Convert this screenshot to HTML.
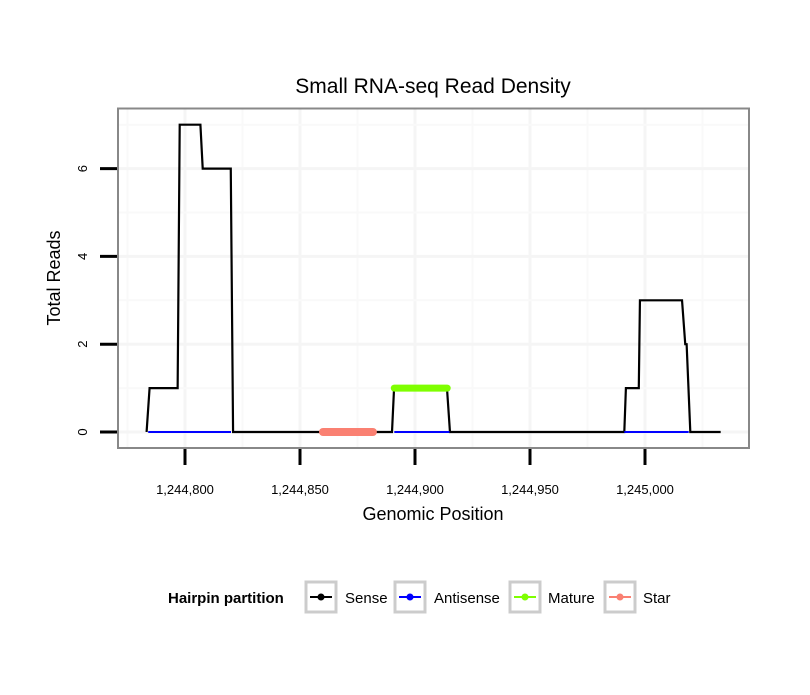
<!DOCTYPE html>
<html><head><meta charset="utf-8"><style>
body{margin:0;background:#fff;font-family:"Liberation Sans",sans-serif}
</style></head><body>
<svg id="c" width="810" height="690" xmlns="http://www.w3.org/2000/svg" font-family="Liberation Sans, sans-serif"></svg>
<script>
const xTicks=[1244800,1244850,1244900,1244950,1245000];
const xTickLabels=["1,244,800","1,244,850","1,244,900","1,244,950","1,245,000"];
const yTicks=[0,2,4,6];
const senseX=[1244783.3,1244784.6,1244796.8,1244797.7,1244806.7,1244807.7,1244819.9,1244820.9,1244890,1244890.9,1244913.9,1244915.2,1244991.0,1244991.7,1244997.3,1244997.8,1245016.1,1245017.5,1245018.1,1245019.7,1245032.9];
const senseY=[0,1,1,7,7,6,6,0,0,1,1,0,0,1,1,3,3,2,2,0,0];
const antiSegs=[[1244784,1244820],[1244891,1244915],[1244991,1245019]];
const matureSegs=[[1244891,1244914,1]];
const starSegs=[[1244860,1244881.7,0]];
const X=v=>185+(v-1244800)*2.3;
const Y=v=>432-v*43.9;
const s=document.getElementById('c');const NS="http://www.w3.org/2000/svg";
function el(t,a,txt){const e=document.createElementNS(NS,t);for(const k in a)e.setAttribute(k,a[k]);if(txt!=null)e.textContent=txt;s.appendChild(e);return e;}
for(let g=1244775;g<=1245035;g+=25){const e=el('line',{x1:X(g),x2:X(g),y1:109,y2:447,stroke:g%50===0?'#f5f5f5':'#f9f9f9','stroke-width':g%50===0?3:2});

}
for(let g=0;g<=7.5;g+=1){if(Y(g)<109)continue;const e=el('line',{x1:118,x2:748,y1:Y(g),y2:Y(g),stroke:g%2===0?'#f5f5f5':'#f9f9f9','stroke-width':g%2===0?3:2});

}
const p=el('polyline',{points:senseX.map((x,i)=>X(x)+','+Y(senseY[i])).join(' '),fill:'none',stroke:'#000','stroke-width':2.2});


antiSegs.forEach(a=>{const e=el('line',{x1:X(a[0]),x2:X(a[1]),y1:Y(0),y2:Y(0),stroke:'#0000ff','stroke-width':2});

});
matureSegs.forEach(a=>{const e=el('line',{x1:X(a[0]),x2:X(a[1]),y1:Y(a[2]),y2:Y(a[2]),stroke:'#7fff00','stroke-width':7,'stroke-linecap':'round'});

});
starSegs.forEach(a=>{const e=el('line',{x1:X(a[0]),x2:X(a[1]),y1:Y(a[2]),y2:Y(a[2]),stroke:'#fa8072','stroke-width':8,'stroke-linecap':'round'});

});
const b=el('rect',{x:118,y:108.5,width:631,height:339.5,fill:'none',stroke:'#888','stroke-width':2});


xTicks.forEach((t,i)=>{const e=el('line',{x1:X(t),x2:X(t),y1:449,y2:465,stroke:'#000','stroke-width':3});


const l=el('text',{x:X(t),y:494,'text-anchor':'middle','font-size':13},xTickLabels[i]);

});
yTicks.forEach(t=>{const e=el('line',{x1:100,x2:117,y1:Y(t),y2:Y(t),stroke:'#000','stroke-width':3});


const l=el('text',{x:0,y:0,transform:`translate(87,${Y(t)}) rotate(-90)`,'text-anchor':'middle','font-size':13},String(t));

});
</script>
<svg width="810" height="690" style="position:absolute;left:0;top:0" font-family="Liberation Sans, sans-serif">
<text x="433" y="93" text-anchor="middle" font-size="21">Small RNA-seq Read Density</text>
<text x="433" y="520" text-anchor="middle" font-size="18">Genomic Position</text>
<text transform="translate(60,278) rotate(-90)" text-anchor="middle" font-size="18">Total Reads</text>
<g font-size="15">
<text x="168" y="603" font-weight="bold" font-size="15">Hairpin partition</text>
<g><rect x="306" y="582" width="30" height="30" fill="#fff" stroke="#ccc" stroke-width="3"/><line x1="310" x2="332" y1="597" y2="597" stroke="#000" stroke-width="2"/><circle cx="321" cy="597" r="3.5" fill="#000"/><text x="345" y="603">Sense</text></g>
<g><rect x="395" y="582" width="30" height="30" fill="#fff" stroke="#ccc" stroke-width="3"/><line x1="399" x2="421" y1="597" y2="597" stroke="#00f" stroke-width="2"/><circle cx="410" cy="597" r="3.5" fill="#00f"/><text x="434" y="603">Antisense</text></g>
<g><rect x="510" y="582" width="30" height="30" fill="#fff" stroke="#ccc" stroke-width="3"/><line x1="514" x2="536" y1="597" y2="597" stroke="#7fff00" stroke-width="2"/><circle cx="525" cy="597" r="3.5" fill="#7fff00"/><text x="548" y="603">Mature</text></g>
<g><rect x="605" y="582" width="30" height="30" fill="#fff" stroke="#ccc" stroke-width="3"/><line x1="609" x2="631" y1="597" y2="597" stroke="#fa8072" stroke-width="2"/><circle cx="620" cy="597" r="3.5" fill="#fa8072"/><text x="643" y="603">Star</text></g>
</g>
</svg>
</body></html>
